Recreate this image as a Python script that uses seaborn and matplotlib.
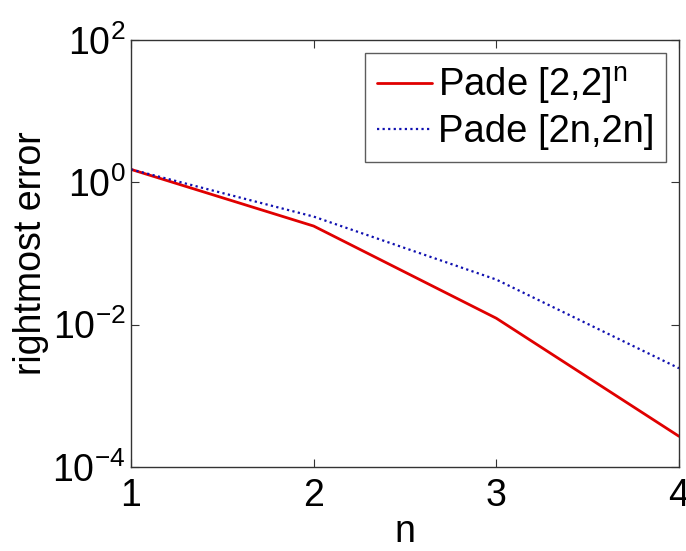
import numpy as np
import pandas as pd
import matplotlib
matplotlib.use("Agg")
import matplotlib.pyplot as plt
import seaborn as sns
from matplotlib.ticker import FixedLocator, FuncFormatter, NullLocator
from matplotlib.lines import Line2D

n_vals = [1, 2, 3, 4]
pade_22n = [1.52, 0.243, 0.0123, 2.7e-4]
pade_2n2n = [1.52, 0.33, 0.043, 2.44e-3]
series_labels = ["Pade [2,2]$^\\mathregular{n}$", "Pade [2n,2n]"]

sns.set_theme(style="white")
plt.rcParams['font.family'] = ['Liberation Sans', 'DejaVu Sans']
plt.rcParams['mathtext.fontset'] = 'custom'
plt.rcParams['mathtext.rm'] = 'Liberation Sans'
plt.rcParams['text.color'] = 'black'
plt.rcParams['axes.labelcolor'] = 'black'
plt.rcParams['xtick.color'] = 'black'
plt.rcParams['ytick.color'] = 'black'

df = pd.DataFrame({
    "n": n_vals * 2,
    "err": pade_22n + pade_2n2n,
    "series": [series_labels[0]] * 4 + [series_labels[1]] * 4,
})

fig = plt.figure(figsize=(6.86, 5.51), dpi=100)
ax = fig.add_axes([131/686, 1 - 467/551, (679-131)/686, (467-40)/551])

sns.lineplot(data=df, x="n", y="err", hue="series", style="series",
             palette={series_labels[0]: "#e00000", series_labels[1]: "#1010b0"},
             dashes={series_labels[0]: "", series_labels[1]: (1, 1.5)},
             ax=ax, legend=False)
lines = ax.get_lines()
lines[0].set_linewidth(2.0)
lines[1].set_linewidth(1.6)

ax.set_yscale('log')
ax.set_xlim(1, 4)
ax.set_ylim(1e-4, 1e2)
ax.yaxis.set_major_locator(FixedLocator([1e-4, 1e-2, 1e0, 1e2]))
ax.yaxis.set_minor_locator(NullLocator())
ax.yaxis.set_major_formatter(FuncFormatter(lambda v, p: "$\\mathregular{10^{%d}}$" % int(round(np.log10(v)))))
ax.set_xticks([1, 2, 3, 4])
ax.set_xticklabels(["1", "2", "3", "4"])

ax.tick_params(axis='both', direction='in', length=6, width=0.8, labelsize=27,
               top=True, right=True, bottom=True, left=True,
               color='#333333', labelcolor='black')
ax.tick_params(axis='x', pad=8)
ax.tick_params(axis='y', pad=4)
for s in ax.spines.values():
    s.set_color('#333333')
    s.set_linewidth(1.0)

ax.set_xlabel("n", fontsize=27, labelpad=0, color='black')
ax.set_ylabel("rightmost error", fontsize=27, labelpad=2, color='black')

handles = [Line2D([], [], color="#e00000", lw=2.0),
           Line2D([], [], color="#1010b0", lw=1.6, linestyle=(0, (1, 1.5)))]
leg = ax.legend(handles, series_labels, loc='upper right', fontsize=27.5,
                frameon=True, fancybox=False, edgecolor='#333333',
                handlelength=1.45, handletextpad=0.15, borderpad=0.3,
                labelspacing=0.2, borderaxespad=0.35)
leg.get_frame().set_linewidth(1.0)
for t in leg.get_texts():
    t.set_color('black')

fig.savefig("out.png", dpi=100)
